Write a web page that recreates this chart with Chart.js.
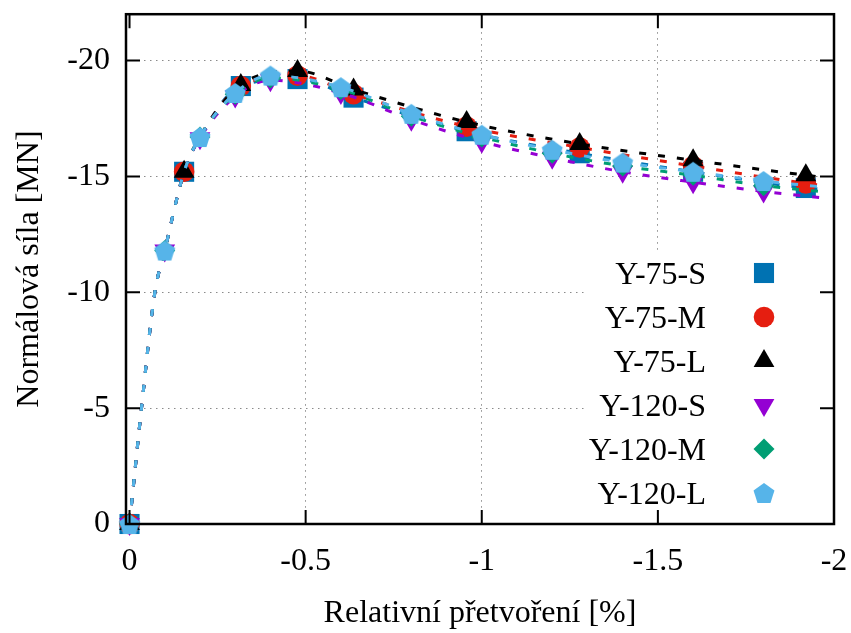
<!DOCTYPE html>
<html>
<head>
<meta charset="utf-8">
<script src="https://cdn.jsdelivr.net/npm/chart.js@4.4.1/dist/chart.umd.min.js"></script>
<style>
  body { margin: 0; background: #fff; }
  canvas { display: block; }
</style>
</head>
<body>
<canvas id="myGraph" width="851" height="633"></canvas>
<script>
// strain [%] per test group, 1 in the mark arrays = point drawn with a marker
const strainY75 = [0, -0.034, -0.072, -0.1, -0.155, -0.2, -0.316, -0.477, -0.636, -0.957, -1.278, -1.6, -1.92, -1.965];
const markY75 = [1, 0, 0, 0, 1, 0, 1, 1, 1, 1, 1, 1, 1, 0];
const strainY120 = [0, -0.034, -0.072, -0.1, -0.155, -0.2, -0.3, -0.4, -0.6, -0.8, -1.0, -1.2, -1.4, -1.6, -1.8, -1.965];
const markY120 = [1, 0, 0, 1, 0, 1, 1, 1, 1, 1, 1, 1, 1, 1, 1, 0];

// normal force [MN]
const forceY75S = [0, -5, -10, -11.8, -15.2, -16.7, -18.9, -19.2, -18.4, -16.95, -16.0, -15.2, -14.5, -14.45];
const forceY75M = [0, -5, -10, -11.8, -15.2, -16.7, -18.9, -19.35, -18.55, -17.15, -16.25, -15.45, -14.7, -14.62];
const forceY75L = [0, -5, -10, -11.8, -15.2, -16.7, -18.95, -19.55, -18.75, -17.35, -16.4, -15.7, -15.05, -14.97];
const forceY120S = [0, -5, -10, -11.8, -15.2, -16.65, -18.45, -19.15, -18.6, -17.45, -16.5, -15.8, -15.2, -14.75, -14.35, -14.08];
const forceY120M = [0, -5, -10, -11.8, -15.2, -16.7, -18.55, -19.25, -18.75, -17.6, -16.7, -16.0, -15.45, -15.05, -14.6, -14.34];
const forceY120L = [0, -5, -10, -11.8, -15.2, -16.7, -18.6, -19.35, -18.85, -17.7, -16.8, -16.15, -15.6, -15.2, -14.8, -14.55];

const seriesNames = ["Y-75-S", "Y-75-M", "Y-75-L", "Y-120-S", "Y-120-M", "Y-120-L"];
const xTicks = [0, -0.5, -1, -1.5, -2];
const yTicks = [0, -5, -10, -15, -20];

const FONT = "'Liberation Serif', 'Times New Roman', serif";
Chart.defaults.font.family = FONT;
Chart.defaults.color = "#000";

// pentagon marker (no built-in style for it)
function makePentagon(color, r) {
  const c = document.createElement("canvas");
  const s = Math.ceil(r * 2 + 2);
  c.width = s;
  c.height = s;
  const g = c.getContext("2d");
  g.fillStyle = color;
  g.beginPath();
  for (let i = 0; i < 5; i++) {
    const a = -Math.PI / 2 + i * 2 * Math.PI / 5;
    const px = s / 2 + Math.cos(a) * r;
    const py = s / 2 + 1 + Math.sin(a) * r;
    if (i == 0) g.moveTo(px, py);
    else g.lineTo(px, py);
  }
  g.closePath();
  g.fill();
  return c;
}

const styles = [
  { color: "#0072b2", point: "rect", radius: 14.2, rotation: 0 },
  { color: "#e51e10", point: "circle", radius: 10.3, rotation: 0 },
  { color: "#000000", point: "triangle", radius: 12, rotation: 0 },
  { color: "#9400d3", point: "triangle", radius: 12, rotation: 180 },
  { color: "#009e73", point: "rectRot", radius: 10.5, rotation: 0 },
  { color: "#56b4e9", point: makePentagon("#56b4e9", 11), radius: 11, rotation: 0 },
];

function toPoints(xs, ys) {
  return xs.map((x, i) => ({ x: x, y: ys[i] }));
}

const seriesData = [
  [strainY75, forceY75S, markY75],
  [strainY75, forceY75M, markY75],
  [strainY75, forceY75L, markY75],
  [strainY120, forceY120S, markY120],
  [strainY120, forceY120M, markY120],
  [strainY120, forceY120L, markY120],
];

const datasets = seriesData.map((s, i) => {
  const st = styles[i];
  const marks = s[2];
  return {
    label: seriesNames[i],
    data: toPoints(s[0], s[1]),
    borderColor: st.color,
    backgroundColor: st.color,
    borderWidth: 3,
    borderDash: [7, 12],
    fill: false,
    cubicInterpolationMode: "monotone",
    pointStyle: st.point,
    pointRotation: st.rotation,
    pointRadius: (c) => (marks[c.dataIndex] ? st.radius : 0),
    pointBackgroundColor: st.color,
    pointBorderWidth: 0,
    clip: false,
    order: 5 - i, // later series on top, like gnuplot
  };
});

// white key box, then key entries
const keyPlugin = {
  id: "keyBox",
  beforeDatasetsDraw(chart) {
    const c = chart.ctx;
    c.save();
    c.fillStyle = "#fff";
    c.fillRect(587, 251, 233, 272);
    c.restore();
  },
  afterDatasetsDraw(chart) {
    const c = chart.ctx;
    c.save();
    c.font = "32px " + FONT;
    c.textAlign = "right";
    c.textBaseline = "alphabetic";
    seriesNames.forEach((name, i) => {
      const yc = 273 + i * 44;
      c.fillStyle = "#000";
      c.fillText(name, 706, yc + 11);
      const st = styles[i];
      c.fillStyle = st.color;
      c.strokeStyle = st.color;
      if (Chart.helpers && Chart.helpers.drawPoint) {
        Chart.helpers.drawPoint(c, { pointStyle: st.point, rotation: st.rotation, radius: st.radius, borderWidth: 0 }, 764, yc);
      } else {
        c.beginPath();
        c.arc(764, yc, 10, 0, Math.PI * 2);
        c.fill();
      }
    });
    c.restore();
  },
};

// gnuplot style frame with inward ticks on all sides
const framePlugin = {
  id: "frame",
  afterDraw(chart) {
    const { ctx: c, chartArea: a, scales } = chart;
    const tl = 14;
    c.save();
    c.strokeStyle = "#000";
    c.lineWidth = 2;
    c.beginPath();
    yTicks.forEach((v) => {
      const p = scales.y.getPixelForValue(v);
      c.moveTo(a.left, p);
      c.lineTo(a.left + tl, p);
      c.moveTo(a.right, p);
      c.lineTo(a.right - tl, p);
    });
    xTicks.forEach((v) => {
      const p = scales.x.getPixelForValue(v);
      c.moveTo(p, a.bottom);
      c.lineTo(p, a.bottom - tl);
      c.moveTo(p, a.top);
      c.lineTo(p, a.top + tl);
    });
    c.stroke();
    c.lineWidth = 2.5;
    c.strokeRect(a.left, a.top, a.right - a.left, a.bottom - a.top);
    c.restore();
  },
};

const gridColor = (ctx) => (ctx.tick && ctx.tick.value === 0 ? "rgba(0,0,0,0)" : "#8a8a8a");

// keep the plot frame where it is in the original
function noOverflow(s) {
  s.paddingLeft = 0;
  s.paddingRight = 0;
  s.paddingTop = 0;
  s.paddingBottom = 0;
}

new Chart(document.getElementById("myGraph"), {
  type: "line",
  data: { datasets: datasets },
  options: {
    responsive: false,
    animation: false,
    events: [],
    layout: { padding: { top: 14, right: 17, left: 0, bottom: 0 } },
    plugins: {
      legend: { display: false },
      tooltip: { enabled: false },
    },
    scales: {
      x: {
        type: "linear",
        reverse: true,
        min: -2,
        max: 0.01,
        afterBuildTicks: (s) => {
          s.ticks = xTicks.map((v) => ({ value: v }));
        },
        afterFit: (s) => {
          s.height = 109;
          noOverflow(s);
        },
        ticks: { font: { size: 32 }, padding: 18, maxRotation: 0, callback: (v) => String(v) },
        grid: { color: gridColor, lineWidth: 1, drawTicks: false },
        border: { display: false, dash: [1.5, 4.5] },
        title: {
          display: true,
          text: "Relativní přetvoření [%]",
          font: { size: 32 },
          padding: { top: 0, bottom: 0 },
        },
      },
      y: {
        type: "linear",
        reverse: true,
        min: -22,
        max: 0,
        afterBuildTicks: (s) => {
          s.ticks = yTicks.map((v) => ({ value: v }));
        },
        afterFit: (s) => {
          s.width = 126;
          noOverflow(s);
        },
        ticks: { font: { size: 32 }, padding: 16, callback: (v) => String(v) },
        grid: { color: gridColor, lineWidth: 1, drawTicks: false },
        border: { display: false, dash: [1.5, 4.5] },
        title: {
          display: true,
          text: "Normálová síla [MN]",
          font: { size: 32 },
          padding: { top: 10, bottom: 0 },
        },
      },
    },
  },
  plugins: [keyPlugin, framePlugin],
});
</script>
</body>
</html>
